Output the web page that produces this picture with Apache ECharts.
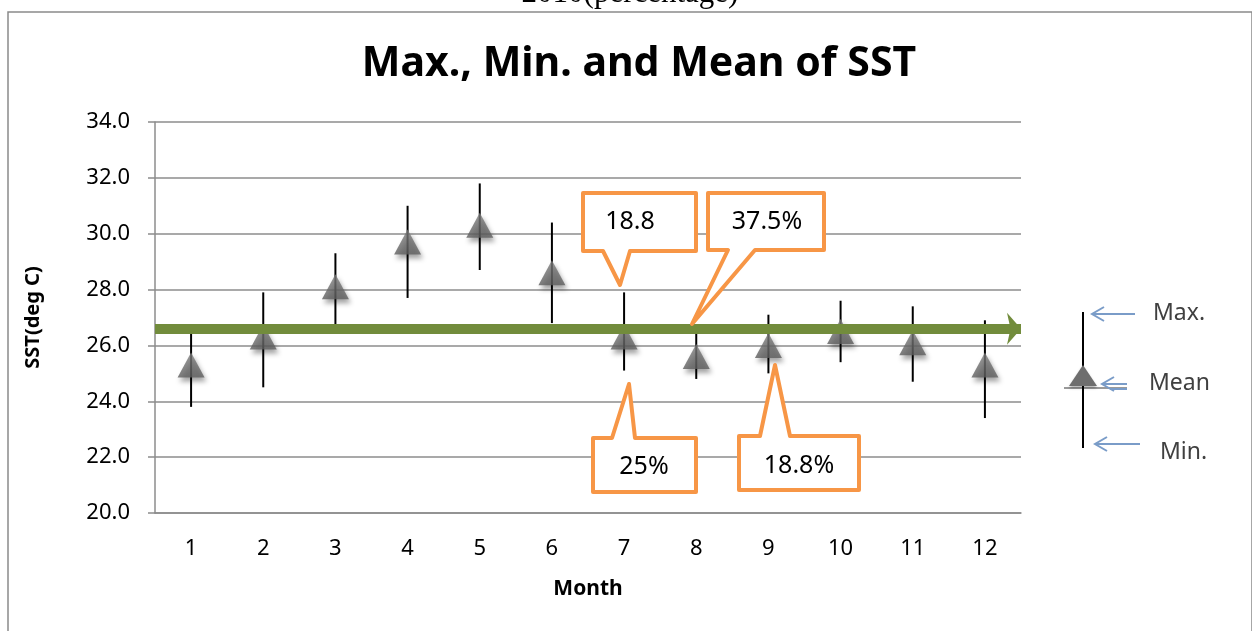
<!DOCTYPE html>
<html>
<head>
<meta charset="utf-8">
<script src="https://cdn.jsdelivr.net/npm/echarts@6/dist/echarts.min.js"></script>
<style>
  html, body { margin: 0; padding: 0; background: #fff; }
  #chart { width: 1252px; height: 631px; }
</style>
</head>
<body>
<div id="chart"></div>
<script>
// SST by month (deg C)
const months = ['1', '2', '3', '4', '5', '6', '7', '8', '9', '10', '11', '12'];
const maxVals = [26.5, 27.9, 29.3, 31.0, 31.8, 30.4, 27.9, 26.5, 27.1, 27.6, 27.4, 26.9];
const minVals = [23.8, 24.5, 26.7, 27.7, 28.7, 26.8, 25.1, 24.8, 25.0, 25.4, 24.7, 23.4];
const meanVals = [25.3, 26.3, 28.1, 29.7, 30.3, 28.6, 26.3, 25.6, 26.0, 26.5, 26.1, 25.3];
const overallMean = 26.6;

// callout texts (percentages)
const calloutTexts = ['18.8', '37.5%', '25%', '18.8%'];

const FONT = 'Noto Sans';
const ORANGE = '#F79646';
const GRID_GRAY = '#8c8c8c';

const chart = echarts.init(document.getElementById('chart'));

const rangeData = months.map((m, i) => [i, minVals[i], maxVals[i]]);

// callout shape: box + pointer
function callout(points, text, tx, ty) {
  return [
    {
      type: 'polygon',
      shape: { points: points },
      style: { fill: '#fff', stroke: ORANGE, lineWidth: 4, lineJoin: 'round' },
      z: 20
    },
    {
      type: 'text',
      x: tx, y: ty,
      style: { text: text, font: '25px "' + FONT + '"', fill: '#000', textAlign: 'center', textVerticalAlign: 'middle' },
      z: 21
    }
  ];
}

function leftArrow(x1, x2, y, color) {
  return [
    { type: 'line', shape: { x1: x1, y1: y, x2: x2, y2: y }, style: { stroke: color, lineWidth: 2 } },
    { type: 'polyline', shape: { points: [[x2 + 12, y - 7], [x2, y], [x2 + 12, y + 7]] }, style: { stroke: color, lineWidth: 2, fill: null } }
  ];
}

const legendColor = '#7a9cc8';
const legendFont = '23px "' + FONT + '"';

chart.setOption({
  animation: false,
  title: {
    text: 'Max., Min. and Mean of SST',
    left: 634, top: 39,
    textAlign: 'center',
    textStyle: { fontFamily: FONT, fontWeight: 'bold', fontSize: 41, color: '#000' }
  },
  grid: { left: 155, right: 231, top: 122, bottom: 118 },
  xAxis: {
    type: 'category',
    data: months,
    name: 'Month',
    nameLocation: 'middle',
    nameGap: 66,
    nameTextStyle: { fontFamily: FONT, fontWeight: 'bold', fontSize: 21, color: '#000' },
    axisLine: { lineStyle: { color: GRID_GRAY, width: 1.5 } },
    axisTick: { alignWithLabel: false, length: 7, lineStyle: { color: GRID_GRAY, width: 1.5 } },
    axisLabel: { fontFamily: FONT, fontSize: 22, color: '#000', margin: 25 }
  },
  yAxis: {
    type: 'value',
    min: 20, max: 34, interval: 2,
    name: 'SST(deg C)',
    nameLocation: 'middle',
    nameGap: 112,
    nameTextStyle: { fontFamily: FONT, fontWeight: 'bold', fontSize: 20, color: '#000' },
    axisLine: { show: true, lineStyle: { color: GRID_GRAY, width: 1.5 } },
    axisTick: { show: true, length: 7, lineStyle: { color: GRID_GRAY, width: 1.5 } },
    splitLine: { lineStyle: { color: GRID_GRAY, width: 1.5 } },
    axisLabel: {
      fontFamily: FONT, fontSize: 22, color: '#000', margin: 25,
      formatter: v => v.toFixed(1)
    }
  },
  series: [
    {
      type: 'custom',
      name: 'Range',
      data: rangeData,
      z: 2,
      renderItem: (params, api) => {
        const lo = api.coord([api.value(0), api.value(1)]);
        const hi = api.coord([api.value(0), api.value(2)]);
        return {
          type: 'line',
          shape: { x1: lo[0], y1: lo[1], x2: hi[0], y2: hi[1] },
          style: { stroke: '#000', lineWidth: 2 }
        };
      }
    },
    {
      type: 'scatter',
      name: 'Mean',
      data: meanVals,
      symbol: 'triangle',
      symbolSize: [27, 25],
      z: 3,
      itemStyle: {
        color: {
          type: 'linear', x: 0, y: 0, x2: 0, y2: 1,
          colorStops: [{ offset: 0, color: '#7d7d7d' }, { offset: 1, color: '#5e5e5e' }]
        },
        shadowBlur: 5,
        shadowColor: 'rgba(0,0,0,0.45)',
        shadowOffsetX: 2,
        shadowOffsetY: 4
      }
    },
    {
      type: 'scatter',
      name: 'Overall mean',
      data: [],
      z: 5,
      markLine: {
        silent: true,
        symbol: ['none', 'arrow'],
        symbolSize: [24, 14],
        label: { show: false },
        lineStyle: { color: '#728C3C', width: 10, type: 'solid' },
        data: [{ yAxis: overallMean }]
      }
    }
  ],
  graphic: [
    // outer frame
    { type: 'rect', shape: { x: 8, y: 12, width: 1244, height: 640 }, style: { fill: null, stroke: '#8a8a8a', lineWidth: 1.5 }, z: 0 },
    {
      type: 'text', x: 630, y: 9,
      style: { text: '2010(percentage)', font: '31px "Liberation Serif"', fill: '#000', textAlign: 'center', textVerticalAlign: 'bottom' }
    },
    ...callout([[583, 193], [696, 193], [696, 251], [630, 251], [620, 285], [603, 251], [583, 251]], calloutTexts[0], 630, 222),
    ...callout([[708, 193], [824, 193], [824, 250], [755, 250], [692, 324], [728, 250], [708, 250]], calloutTexts[1], 767, 222),
    ...callout([[593, 438], [612, 438], [629, 384], [635, 438], [696, 438], [696, 492], [593, 492]], calloutTexts[2], 644, 467),
    ...callout([[739, 436], [760, 436], [775, 365], [790, 436], [859, 436], [859, 490], [739, 490]], calloutTexts[3], 799, 466),
    // legend key on the right
    { type: 'line', shape: { x1: 1064, y1: 388, x2: 1127, y2: 388 }, style: { stroke: '#9a9a9a', lineWidth: 2 } },
    { type: 'line', shape: { x1: 1083, y1: 312, x2: 1083, y2: 448 }, style: { stroke: '#000', lineWidth: 2 } },
    {
      type: 'polygon',
      shape: { points: [[1083, 365], [1097, 386], [1069, 386]] },
      style: { fill: '#6e6e6e', shadowBlur: 3, shadowColor: 'rgba(0,0,0,0.3)', shadowOffsetY: 2 }
    },
    ...leftArrow(1135, 1092, 314, legendColor),
    ...leftArrow(1127, 1102, 384, legendColor),
    { type: 'line', shape: { x1: 1110, y1: 389, x2: 1127, y2: 389 }, style: { stroke: legendColor, lineWidth: 2 } },
    ...leftArrow(1140, 1095, 444, legendColor),
    { type: 'text', x: 1153, y: 313, style: { text: 'Max.', font: legendFont, fill: '#404040', textVerticalAlign: 'middle' } },
    { type: 'text', x: 1149, y: 383, style: { text: 'Mean', font: legendFont, fill: '#404040', textVerticalAlign: 'middle' } },
    { type: 'text', x: 1160, y: 452, style: { text: 'Min.', font: legendFont, fill: '#404040', textVerticalAlign: 'middle' } }
  ]
});
</script>
</body>
</html>
